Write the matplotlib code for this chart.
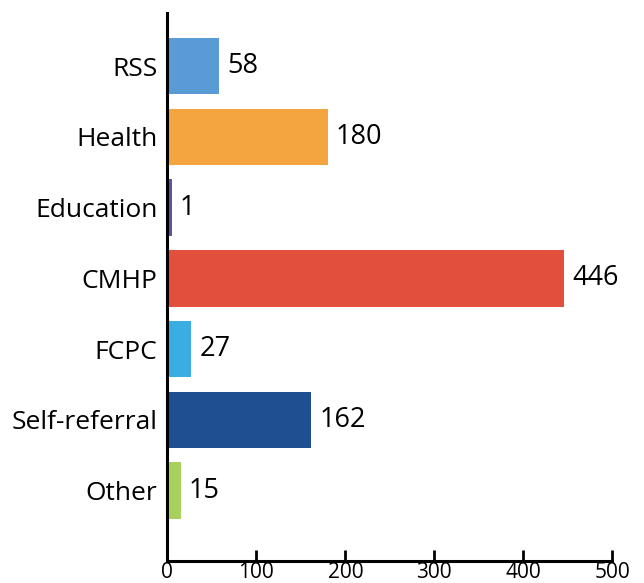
import matplotlib
matplotlib.use('Agg')
import matplotlib.pyplot as plt

categories = ['RSS', 'Health', 'Education', 'CMHP', 'FCPC', 'Self-referral', 'Other']
values = [58, 180, 1, 446, 27, 162, 15]
colors = ['#5b9bd5', '#f5a540', '#5a55a3', '#e34f3d', '#3aaee2', '#1f4e91', '#a8d05e']
x_ticks = [0, 100, 200, 300, 400, 500]

plt.rcParams['font.family'] = ['Open Sans', 'DejaVu Sans']

fig = plt.figure(figsize=(6.44, 5.83), dpi=100)
ax = fig.add_axes([0.2598, 0.0383, 0.691, 0.9394])

pos = list(range(len(categories)))
# tiny values get a minimum visible width so they don't vanish behind the spine
shown = [max(v, 5) for v in values]
ax.barh(pos, shown, height=0.8, color=colors)

for p, v, s in zip(pos, values, shown):
    ax.text(s + 9, p, str(v), va='center', ha='left', fontsize=19.5)

ax.set_xlim(0, 500)
ax.set_ylim(6.99, -0.75)
ax.set_yticks(pos)
ax.set_yticklabels(categories, fontsize=19)
ax.set_xticks(x_ticks)
ax.set_xticklabels([str(t) for t in x_ticks], fontsize=15)

ax.spines['top'].set_visible(False)
ax.spines['right'].set_visible(False)
ax.spines['left'].set_linewidth(2.2)
ax.spines['bottom'].set_linewidth(2.2)
ax.tick_params(axis='y', length=0, pad=7)
ax.tick_params(axis='x', direction='in', length=8, width=2, pad=1)

fig.savefig('out.png', dpi=100)
